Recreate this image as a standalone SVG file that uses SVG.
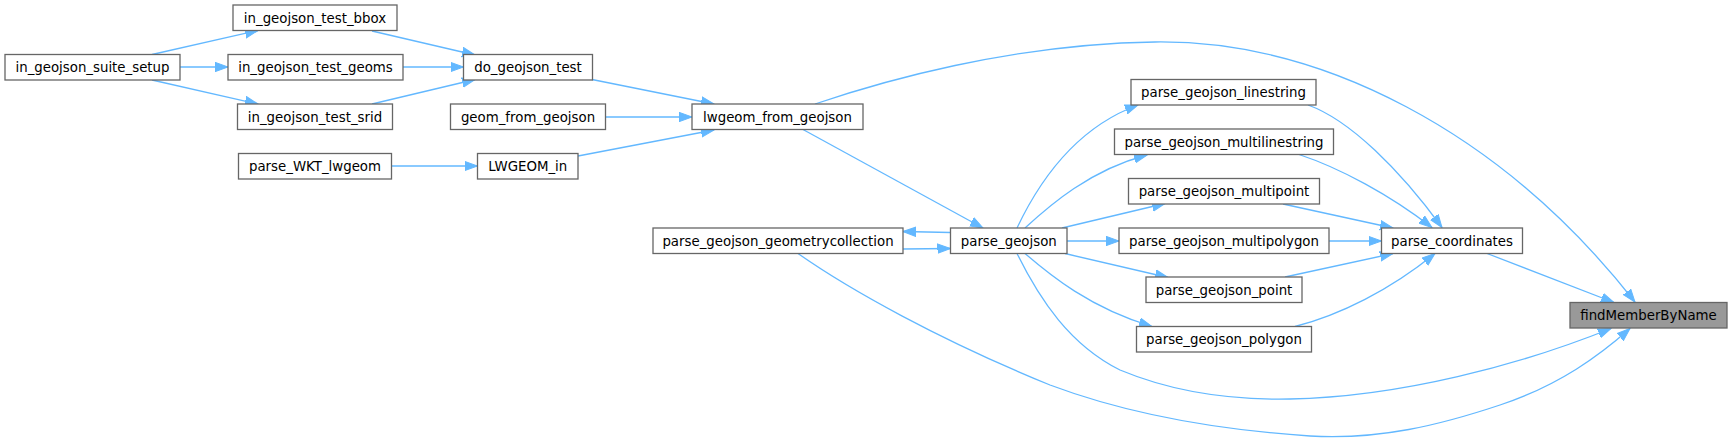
<svg xmlns="http://www.w3.org/2000/svg" width="1732" height="441" viewBox="0 0 1732 441">
<style>
.n rect{fill:#ffffff;stroke:#666666;stroke-width:1.3}
.n text{font-family:"DejaVu Sans",sans-serif;font-size:13.33px;fill:#000000;text-anchor:middle}
#findMemberByName rect{fill:#999999}
.e path{fill:none;stroke:#63b8ff;stroke-width:1.3;marker-end:url(#a)}
</style>
<defs>
<marker id="a" markerUnits="userSpaceOnUse" markerWidth="14" markerHeight="11" refX="13" refY="5.5" orient="auto">
<path d="M0,0.8 L13,5.5 L0,10.2 z" fill="#63b8ff" stroke="#63b8ff" stroke-width="1"/>
</marker>
</defs>
<rect width="1732" height="441" fill="#ffffff"/>
<g id="edges" class="e">
<path d="M152,54.5 L258,30.5"/>
<path d="M180,67 L228,67"/>
<path d="M152,80 L258,104"/>
<path d="M372,31 L475,55"/>
<path d="M403,67 L463.5,67"/>
<path d="M372,104 L475,79.5"/>
<path d="M592,79.5 L714,104"/>
<path d="M605.5,117 L692,117"/>
<path d="M578,156 L714,130"/>
<path d="M391.5,166 L477.5,166"/>
<path d="M803,129.5 L983,228"/>
<path d="M815,104 C880,82 1010,44 1155,42 C1320,40 1500,130 1635,302"/>
<path d="M950.5,232.5 L903,231.5"/>
<path d="M903,249 L950.5,248.5"/>
<path d="M798,253.5 C850,290 940,340 1050,385 C1130,415 1220,430 1310,436 C1380,440 1440,425 1500,405 C1560,385 1600,355 1630,328.5"/>
<path d="M1017,253.5 C1040,300 1070,345 1120,370 C1180,395 1240,400 1290,399 C1400,397 1520,365 1611,328.5"/>
<path d="M1017,228 C1035,190 1070,130 1138,105"/>
<path d="M1025,228 C1050,205 1090,170 1147,155"/>
<path d="M1062,228 L1165,203.5"/>
<path d="M1066.5,241 L1119,241"/>
<path d="M1065,253.5 L1168,277.5"/>
<path d="M1025,253.5 C1050,275 1090,308 1152,326.5"/>
<path d="M1308,105 C1350,120 1400,170 1442,227.5"/>
<path d="M1299,154.5 C1340,168 1390,195 1432,227.5"/>
<path d="M1283,204 L1393,228"/>
<path d="M1329,241 L1381.5,241"/>
<path d="M1285,277 L1393,253.5"/>
<path d="M1295,326.5 C1340,315 1390,290 1435,253.5"/>
<path d="M1487,253.5 L1614,302.5"/>
</g>
<g id="in_geojson_test_bbox" class="n"><rect x="233" y="5" width="164" height="25.5"/><text x="315" y="22.5">in_geojson_test_bbox</text></g>
<g id="in_geojson_suite_setup" class="n"><rect x="5" y="54.5" width="175" height="25.5"/><text x="92.5" y="72">in_geojson_suite_setup</text></g>
<g id="in_geojson_test_geoms" class="n"><rect x="228" y="54.5" width="175" height="25.5"/><text x="315.5" y="72">in_geojson_test_geoms</text></g>
<g id="in_geojson_test_srid" class="n"><rect x="237.5" y="104" width="155" height="25.5"/><text x="315" y="121.5">in_geojson_test_srid</text></g>
<g id="do_geojson_test" class="n"><rect x="463.5" y="54.5" width="129" height="25.5"/><text x="528" y="72">do_geojson_test</text></g>
<g id="geom_from_geojson" class="n"><rect x="450.5" y="104" width="155" height="25.5"/><text x="528" y="121.5">geom_from_geojson</text></g>
<g id="parse_WKT_lwgeom" class="n"><rect x="238.5" y="153.5" width="153" height="25.5"/><text x="315" y="171">parse_WKT_lwgeom</text></g>
<g id="LWGEOM_in" class="n"><rect x="477.5" y="153.5" width="100.5" height="25.5"/><text x="527.75" y="171">LWGEOM_in</text></g>
<g id="lwgeom_from_geojson" class="n"><rect x="692" y="104" width="171" height="25.5"/><text x="777.5" y="121.5">lwgeom_from_geojson</text></g>
<g id="parse_geojson_geometrycollection" class="n"><rect x="653" y="228" width="250" height="25.5"/><text x="778" y="245.5">parse_geojson_geometrycollection</text></g>
<g id="parse_geojson" class="n"><rect x="950.5" y="228" width="116.5" height="25.5"/><text x="1008.75" y="245.5">parse_geojson</text></g>
<g id="parse_geojson_linestring" class="n"><rect x="1131" y="79.5" width="185" height="25.5"/><text x="1223.5" y="97">parse_geojson_linestring</text></g>
<g id="parse_geojson_multilinestring" class="n"><rect x="1114.5" y="129" width="219" height="25.5"/><text x="1224" y="146.5">parse_geojson_multilinestring</text></g>
<g id="parse_geojson_multipoint" class="n"><rect x="1128.5" y="178.5" width="191" height="25.5"/><text x="1224" y="196">parse_geojson_multipoint</text></g>
<g id="parse_geojson_multipolygon" class="n"><rect x="1119" y="228" width="210" height="25.5"/><text x="1224" y="245.5">parse_geojson_multipolygon</text></g>
<g id="parse_geojson_point" class="n"><rect x="1146" y="277" width="156" height="25.5"/><text x="1224" y="294.5">parse_geojson_point</text></g>
<g id="parse_geojson_polygon" class="n"><rect x="1136.5" y="326.5" width="175" height="25.5"/><text x="1224" y="344">parse_geojson_polygon</text></g>
<g id="parse_coordinates" class="n"><rect x="1381.5" y="228" width="141" height="25.5"/><text x="1452" y="245.5">parse_coordinates</text></g>
<g id="findMemberByName" class="n"><rect x="1570" y="302.5" width="157" height="25.5"/><text x="1648.5" y="320">findMemberByName</text></g>
</svg>
